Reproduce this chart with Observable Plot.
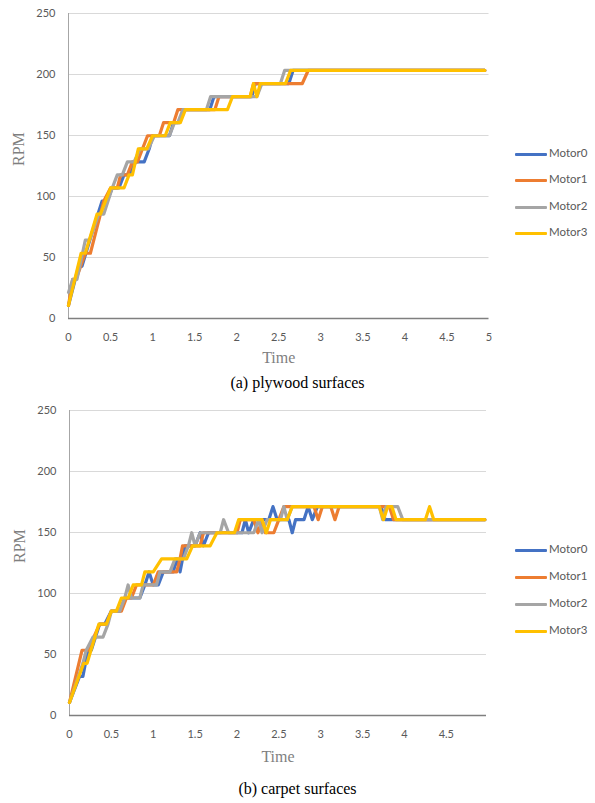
<!DOCTYPE html>
<html><head><meta charset="utf-8">
<script src="https://cdn.jsdelivr.net/npm/d3@7"></script>
<script src="https://cdn.jsdelivr.net/npm/@observablehq/plot@0.6"></script>
<style>
body{margin:0;background:#fff;}
#wrap{position:relative;width:595px;height:803px;overflow:hidden;background:#fff;}
.panel{position:absolute;left:0;}
.cap{position:absolute;left:0;width:595px;text-align:center;font-family:"Liberation Serif","Times New Roman",serif;font-size:16px;color:#000;line-height:20px;}
.row{position:absolute;left:515px;white-space:nowrap;height:14px;line-height:14px;font-family:Lato,sans-serif;font-size:11.5px;color:#595959;}
.sw{display:inline-block;width:32px;height:3px;vertical-align:middle;margin-right:2px;border-radius:1px;}
</style></head><body><div id="wrap"></div>
<script>
const series = ["Motor0","Motor1","Motor2","Motor3"];
const colors = ["#4472C4","#ED7D31","#A5A5A5","#FFC000"];
const yTicks = [0,50,100,150,200,250];
const xTicksPly = [0,0.5,1,1.5,2,2.5,3,3.5,4,4.5,5];
const xTicksCarpet = [0,0.5,1,1.5,2,2.5,3,3.5,4,4.5];
const captions = ["(a) plywood surfaces","(b) carpet surfaces"];

// (a) plywood
const plyT0 = [0,0.12,0.16,0.3,0.4,0.46,0.52,0.6,0.66,0.72,0.8,0.9,0.96,1.0,1.2,1.25,1.32,1.37,1.68,1.73,2.18,2.22,2.62,2.67,4.95];
const plyR0 = [10.7,42.8,42.8,74.9,96.3,96.3,107,107,117.7,117.7,128.4,128.4,139.1,149.8,149.8,160.5,160.5,171.2,171.2,181.9,181.9,192.6,192.6,203.3,203.3];
const plyT1 = [0,0.05,0.09,0.2,0.26,0.34,0.42,0.5,0.58,0.62,0.7,0.76,0.82,0.88,0.94,1.08,1.13,1.25,1.3,1.74,1.79,2.16,2.2,2.78,2.85,4.95];
const plyR1 = [10.7,32.1,32.1,53.5,53.5,74.9,96.3,107,107,117.7,117.7,128.4,128.4,139.1,149.8,149.8,160.5,160.5,171.2,171.2,181.9,181.9,192.6,192.6,203.3,203.3];
const plyT2 = [0,0.05,0.1,0.2,0.25,0.36,0.42,0.52,0.58,0.64,0.7,0.78,0.85,0.95,1.02,1.2,1.26,1.3,1.36,1.64,1.69,2.24,2.3,2.52,2.57,4.95];
const plyR2 = [21.4,32.1,32.1,64.2,64.2,85.6,85.6,107,117.7,117.7,128.4,128.4,139.1,139.1,149.8,149.8,160.5,160.5,171.2,171.2,181.9,181.9,192.6,192.6,203.3,203.3];
const plyT3 = [0,0.15,0.2,0.34,0.38,0.5,0.66,0.72,0.76,0.83,0.93,1.0,1.15,1.21,1.33,1.39,1.89,1.95,2.16,2.2,2.24,2.28,2.58,2.64,4.95];
const plyR3 = [10.7,53.5,53.5,85.6,85.6,107,107,117.7,117.7,139.1,139.1,149.8,149.8,160.5,160.5,171.2,171.2,181.9,181.9,192.6,181.9,192.6,192.6,203.3,203.3];

// (b) carpet
const carT0 = [0,0.12,0.16,0.22,0.26,0.36,0.42,0.5,0.6,0.66,0.84,0.9,0.95,1.0,1.06,1.12,1.24,1.28,1.32,1.38,1.5,1.56,1.6,1.66,2.06,2.1,2.14,2.2,2.38,2.43,2.48,2.62,2.66,2.7,2.8,2.85,2.9,2.96,3.72,3.77,4.96];
const carR0 = [10.7,32.1,32.1,53.5,53.5,74.9,74.9,85.6,85.6,96.3,96.3,107,117.7,107,107,117.7,117.7,128.4,117.7,139.1,139.1,149.8,139.1,149.8,149.8,160.5,149.8,160.5,160.5,171.2,160.5,160.5,149.8,160.5,160.5,171.2,160.5,171.2,171.2,160.5,160.5];
const carT1 = [0,0.15,0.22,0.36,0.44,0.5,0.62,0.68,0.74,0.8,1.0,1.06,1.28,1.32,1.35,1.56,1.6,2.0,2.04,2.2,2.25,2.3,2.34,2.44,2.5,2.56,2.92,2.97,3.02,3.12,3.17,3.22,3.82,3.87,4.96];
const carR1 = [10.7,53.5,53.5,74.9,74.9,85.6,85.6,96.3,96.3,107,107,117.7,117.7,128.4,139.1,139.1,149.8,149.8,160.5,160.5,149.8,160.5,149.8,149.8,160.5,171.2,171.2,160.5,171.2,171.2,160.5,171.2,171.2,160.5,160.5];
const carT2 = [0,0.16,0.2,0.28,0.4,0.46,0.5,0.6,0.66,0.7,0.74,0.84,0.88,1.04,1.08,1.2,1.26,1.36,1.42,1.46,1.5,1.56,1.8,1.84,1.9,2.2,2.26,2.3,2.36,2.52,2.56,2.6,2.66,3.7,3.74,3.78,3.92,3.98,4.96];
const carR2 = [10.7,42.8,53.5,64.2,64.2,74.9,85.6,85.6,96.3,107,96.3,96.3,107,107,117.7,117.7,128.4,128.4,139.1,149.8,139.1,149.8,149.8,160.5,149.8,149.8,160.5,149.8,160.5,160.5,171.2,160.5,171.2,171.2,160.5,171.2,171.2,160.5,160.5];
const carT3 = [0,0.17,0.21,0.35,0.44,0.5,0.56,0.62,0.7,0.76,0.86,0.9,1.0,1.1,1.4,1.47,1.68,1.76,1.97,2.02,2.3,2.35,2.4,2.6,2.66,3.7,3.75,3.8,3.85,3.9,4.25,4.3,4.35,4.96];
const carR3 = [10.7,42.8,42.8,74.9,74.9,85.6,85.6,96.3,96.3,107,107,117.7,117.7,128.4,128.4,139.1,139.1,149.8,149.8,160.5,160.5,149.8,160.5,160.5,171.2,171.2,160.5,171.2,171.2,160.5,160.5,171.2,160.5,160.5];

function rows(ts, rs) {
  const out = [];
  ts.forEach((tArr, i) => tArr.forEach((t, j) => out.push({series: series[i], t, rpm: rs[i][j]})));
  return out;
}
const plyRows = rows([plyT0,plyT1,plyT2,plyT3],[plyR0,plyR1,plyR2,plyR3]);
const carRows = rows([carT0,carT1,carT2,carT3],[carR0,carR1,carR2,carR3]);

const wrap = document.getElementById("wrap");

function panel(data, xTicks, xMax, mLeft, mRight, top, legendTops, capTop, caption, timeDy) {
  const H = 371;
  const chart = Plot.plot({
    width: 595, height: H,
    marginTop: 13, marginBottom: 53, marginLeft: mLeft, marginRight: mRight,
    style: {fontFamily: "Lato, sans-serif", fontSize: "11px", color: "#595959", background: "transparent", overflow: "visible"},
    x: {domain: [0, xMax]},
    y: {domain: [0, 250]},
    color: {domain: series, range: colors},
    marks: [
      Plot.gridY(yTicks.filter(d => d > 0), {stroke: "#d9d9d9", strokeOpacity: 1}),
      Plot.ruleX([0], {stroke: "#a6a6a6", strokeWidth: 1}),
      Plot.ruleY([0], {stroke: "#7f7f7f", strokeWidth: 1.3}),
      Plot.axisY(yTicks, {tickSize: 0, tickPadding: 13, label: null}),
      Plot.axisX(xTicks, {tickSize: 0, tickPadding: 15, tickFormat: d => String(d), label: null}),
      Plot.line(data, {x: "t", y: "rpm", z: "series", stroke: "series", strokeWidth: 3.2, strokeLinejoin: "round", strokeLinecap: "round"}),
      Plot.text(["RPM"], {frameAnchor: "left", dx: -50, rotate: -90, fontFamily: "Liberation Serif, serif", fontSize: 16, fill: "#7f7f7f"}),
      Plot.text(["Time"], {frameAnchor: "bottom", dy: timeDy, fontFamily: "Liberation Serif, serif", fontSize: 16, fill: "#7f7f7f"})
    ]
  });
  chart.classList.add("panel");
  chart.style.top = top + "px";
  wrap.appendChild(chart);
  series.forEach((s, i) => {
    const r = document.createElement("div");
    r.className = "row";
    r.style.top = (legendTops[i] - 7) + "px";
    r.innerHTML = `<span class="sw" style="background:${colors[i]}"></span>${s}`;
    wrap.appendChild(r);
  });
  const c = document.createElement("div");
  c.className = "cap";
  c.style.top = (capTop - 10) + "px";
  c.textContent = caption;
  wrap.appendChild(c);
}

panel(plyRows, xTicksPly, 5, 68, 106.5, 0, [153,179,206,232], 383, captions[0], 44);
panel(carRows, xTicksCarpet, 4.98, 69, 109, 397, [549,576,603,630], 789, captions[1], 46);
</script></body></html>
